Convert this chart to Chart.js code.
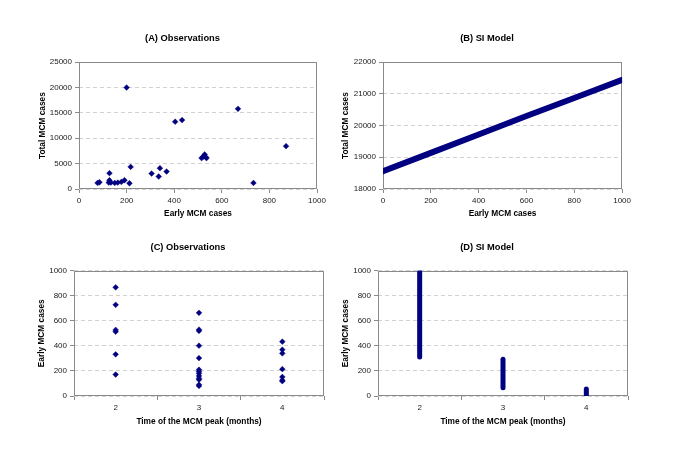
<!DOCTYPE html>
<html><head><meta charset="utf-8">
<script src="https://cdn.jsdelivr.net/npm/chart.js@4.4.1/dist/chart.umd.min.js"></script>
<style>
html,body{margin:0;padding:0;background:#fff;width:685px;height:472px;overflow:hidden}
canvas{position:absolute}
</style></head><body>
<canvas id="cA"></canvas><canvas id="cB"></canvas><canvas id="cC"></canvas><canvas id="cD"></canvas>
<script>
// ---- data ----
// (A) observations: early vs total MCM cases
const obsEarly = [78, 86, 128, 128, 125, 134, 150, 163, 178, 191, 212, 217,
                  305, 335, 340, 368, 200, 404, 433, 668, 870, 733,
                  515, 522, 528, 532, 536];
const obsTotal = [1190, 1330, 3110, 1720, 1270, 1270, 1190, 1270, 1390, 1720, 1130, 4360,
                  3050, 2460, 4100, 3440, 20000, 13260, 13590, 15800, 8440, 1190,
                  6100, 6400, 6800, 6300, 6100];
// (B) SI model line
const modelEarly = [0, 200, 400, 600, 800, 1000];
const modelTotal = [18560, 19140, 19720, 20300, 20870, 21440];
// (C) observations: early cases by month of peak
const month2Early = [866, 727, 527, 513, 332, 171];
const month3Early = [663, 529, 519, 401, 302, 210, 195, 180, 160, 140, 130, 90, 80];
const month4Early = [433, 369, 340, 214, 152, 126, 118];
// (D) SI model ranges of early cases by month of peak
const peakMonths = [2, 3, 4];
const modelLow  = [311, 65, 7];
const modelHigh = [988, 293, 55];
// tick labels
const earlyTicks = [0, 200, 400, 600, 800, 1000];
const totalTicksA = [0, 5000, 10000, 15000, 20000, 25000];
const totalTicksB = [18000, 19000, 20000, 21000, 22000];

// ---- styling ----
const NAVY = '#000080';
const FONT = '"Liberation Sans", Arial, sans-serif';
Chart.defaults.font.family = FONT;
Chart.defaults.color = '#000';
Chart.defaults.animation = false;

const framePlugin = {
  id: 'frame',
  beforeDatasetsDraw(chart) {
    const a = chart.chartArea, ctx = chart.ctx;
    ctx.save();
    ctx.strokeStyle = '#8a8a8a'; ctx.lineWidth = 1;
    ctx.strokeRect(Math.round(a.left) + 0.5, Math.round(a.top) + 0.5,
                   Math.round(a.right - a.left) - 1, Math.round(a.bottom - a.top) - 1);
    ctx.restore();
  }
};

function fixedTicks(list) {
  return s => { s.ticks = list.map(v => ({ value: v })); };
}

function yAxis(min, max, list, title, width, titlePad) {
  return {
    type: 'linear', min, max,
    afterBuildTicks: fixedTicks(list),
    afterFit: s => { s.width = width; },
    ticks: { callback: v => String(v), font: { size: 8 }, color: '#1a1a1a', padding: 3 },
    grid: { color: '#d2d2d2', tickColor: '#8a8a8a', tickLength: 4, tickBorderDash: [] },
    border: { display: false, dash: [4, 3] },
    title: { display: true, text: title, font: { size: 8.3, weight: 'bold' }, color: '#000',
             padding: { top: titlePad, bottom: 0 } }
  };
}

function xAxis(min, max, list, title, height, labelFn, tickColorFn) {
  return {
    type: 'linear', min, max,
    afterBuildTicks: fixedTicks(list),
    afterFit: s => { s.height = height; },
    ticks: { callback: labelFn || (v => String(v)), font: { size: 8 }, color: '#1a1a1a', padding: 3,
             maxRotation: 0, autoSkip: false },
    grid: { drawOnChartArea: false, tickColor: tickColorFn || '#8a8a8a', tickLength: 4 },
    border: { display: false },
    title: { display: true, text: title, font: { size: 8.3, weight: 'bold' }, color: '#000',
             padding: { top: 0, bottom: 4 } }
  };
}

// invisible right-hand spacer so the title stays centred on the whole canvas
function spacer(width) {
  return {
    type: 'linear', position: 'right', display: true,
    afterFit: s => { s.width = width; },
    ticks: { display: false }, grid: { display: false, drawTicks: false },
    border: { display: false }, title: { display: false }
  };
}

function titleOpt(text, pt, pb) {
  return { display: true, text, font: { size: 9.3, weight: 'bold' }, color: '#000',
           padding: { top: pt, bottom: pb } };
}

function panel(id, geo, cfg) {
  const c = document.getElementById(id);
  c.width = geo.w; c.height = geo.h;
  c.style.left = geo.x + 'px'; c.style.top = geo.y + 'px';
  c.style.width = geo.w + 'px'; c.style.height = geo.h + 'px';
  cfg.plugins = [framePlugin];
  cfg.options.responsive = false;
  cfg.options.maintainAspectRatio = false;
  cfg.options.devicePixelRatio = 1;
  cfg.options.layout = { padding: 0 };
  cfg.options.plugins = Object.assign({ legend: { display: false }, tooltip: { enabled: false } },
                                      cfg.options.plugins || {});
  return new Chart(c, cfg);
}

const pointStyle = { pointStyle: 'rectRot', pointRadius: 2.9, borderWidth: 0.4,
                     backgroundColor: NAVY, borderColor: NAVY };

// (A)
panel('cA', { x: 30, y: 20, w: 305, h: 203 }, {
  type: 'scatter',
  data: { datasets: [Object.assign({ data: obsEarly.map((x, i) => ({ x, y: obsTotal[i] })) }, pointStyle)] },
  options: {
    plugins: { title: titleOpt('(A) Observations', 13, 18) },
    scales: {
      x: xAxis(0, 1000, earlyTicks, 'Early MCM cases', 34),
      y: yAxis(0, 25000, totalTicksA, 'Total MCM cases', 49, 7.9),
      yR: spacer(18)
    }
  }
});

// (B)
panel('cB', { x: 340, y: 20, w: 294, h: 203 }, {
  type: 'scatter',
  data: { datasets: [{ data: modelEarly.map((x, i) => ({ x, y: modelTotal[i] })), showLine: true,
                       borderColor: NAVY, backgroundColor: NAVY, borderWidth: 6, pointRadius: 0,
                       borderCapStyle: 'round' }] },
  options: {
    plugins: { title: titleOpt('(B) SI Model', 13, 18) },
    scales: {
      x: xAxis(0, 1000, earlyTicks, 'Early MCM cases', 34),
      y: yAxis(18000, 22000, totalTicksB, 'Total MCM cases', 43, 1.2),
      yR: spacer(11)
    }
  }
});

// month axis helpers
const monthTickList = [];
peakMonths.forEach(m => { monthTickList.push(m - 0.5, m); });
monthTickList.push(peakMonths[peakMonths.length - 1] + 0.5);
const monthLabel = v => (peakMonths.includes(v) ? String(v) : '');
const monthTickColor = ctx => (ctx.tick && peakMonths.includes(ctx.tick.value) ? 'rgba(0,0,0,0)' : '#8a8a8a');

// (C)
const cData = [];
month2Early.forEach(y => cData.push({ x: peakMonths[0], y }));
month3Early.forEach(y => cData.push({ x: peakMonths[1], y }));
month4Early.forEach(y => cData.push({ x: peakMonths[2], y }));
panel('cC', { x: 30, y: 226, w: 316, h: 205 }, {
  type: 'scatter',
  data: { datasets: [Object.assign({ data: cData }, pointStyle)] },
  options: {
    plugins: { title: titleOpt('(C) Observations', 15.8, 17.6) },
    scales: {
      x: xAxis(1.5, 4.5, monthTickList, 'Time of the MCM peak (months)', 35, monthLabel, monthTickColor),
      y: yAxis(0, 1000, earlyTicks, 'Early MCM cases', 44, 6.9),
      yR: spacer(22)
    }
  }
});

// (D)
panel('cD', { x: 340, y: 226, w: 294, h: 205 }, {
  type: 'scatter',
  data: { datasets: peakMonths.map((m, i) => ({
    data: [{ x: m, y: modelLow[i] }, { x: m, y: modelHigh[i] }], showLine: true,
    borderColor: NAVY, backgroundColor: NAVY, borderWidth: 5, pointRadius: 0, borderCapStyle: 'round'
  })) },
  options: {
    plugins: { title: titleOpt('(D) SI Model', 15.8, 17.6) },
    scales: {
      x: xAxis(1.5, 4.5, monthTickList, 'Time of the MCM peak (months)', 35, monthLabel, monthTickColor),
      y: yAxis(0, 1000, earlyTicks, 'Early MCM cases', 38, 0.9),
      yR: spacer(6)
    }
  }
});
</script>
</body></html>
